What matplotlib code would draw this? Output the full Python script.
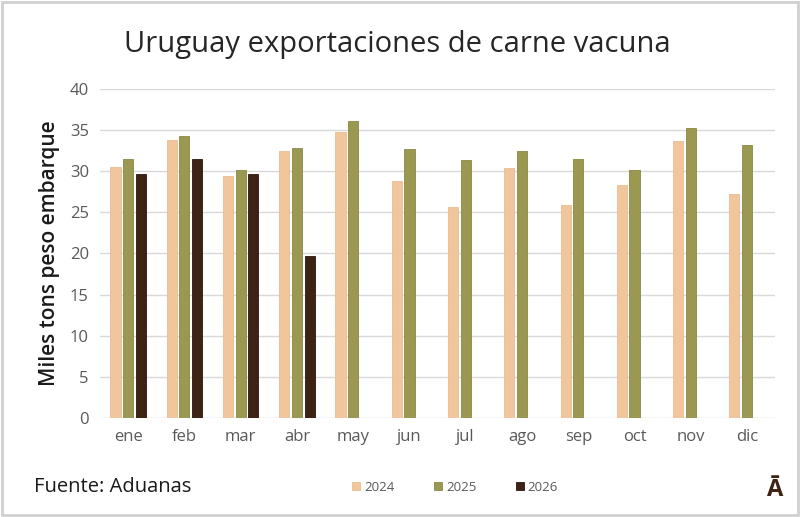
import numpy as np
import matplotlib.pyplot as plt
from matplotlib.patches import Rectangle

# data (miles de toneladas peso embarque)
meses = ["ene", "feb", "mar", "abr", "may", "jun", "jul", "ago", "sep", "oct", "nov", "dic"]
v2024 = [30.5, 33.8, 29.4, 32.5, 34.8, 28.8, 25.7, 30.4, 25.9, 28.3, 33.7, 27.2]
v2025 = [31.5, 34.3, 30.1, 32.8, 36.1, 32.7, 31.4, 32.4, 31.5, 30.1, 35.2, 33.2]
v2026 = [29.6, 31.5, 29.7, 19.7]

plt.rcParams['font.family'] = ['Open Sans', 'DejaVu Sans']

c24 = "#F1C69D"
c25 = "#9B9851"
c26 = "#3E2314"

fig = plt.figure(figsize=(8, 5.17), dpi=100)
ax = fig.add_axes([0.125, 0.1915, 0.844, 0.6365])

x = np.arange(len(meses))
w = 0.18
off = 0.225
ax.bar(x - off, v2024, w, color=c24, edgecolor="#E9BC90", linewidth=0.6, label="2024", zorder=3)
ax.bar(x, v2025, w, color=c25, edgecolor="#8A8744", linewidth=0.6, label="2025", zorder=3)
ax.bar(x[:len(v2026)] + off, v2026, w, color=c26, edgecolor="#2A160C", linewidth=0.6, label="2026", zorder=3)

ax.set_xlim(-0.5, len(meses) - 0.5)
ax.set_ylim(0, 40)
ax.set_yticks(range(0, 41, 5))
ax.set_xticks(x)
ax.set_xticklabels(meses)
ax.grid(axis="y", color="#D9D9D9", linewidth=1.0, zorder=0)
for s in ax.spines.values():
    s.set_visible(False)
ax.tick_params(length=0, labelsize=12, labelcolor="#595959", pad=8)
ax.set_ylabel("Miles tons peso embarque", fontsize=15, fontweight="semibold",
              color="#1a1a1a", labelpad=7)

fig.text(0.497, 0.913, "Uruguay exportaciones de carne vacuna", ha="center", va="center",
         fontsize=21, color="#262626")

leg = fig.legend(loc="center", bbox_to_anchor=(0.569, 0.058), ncol=3, frameon=False,
                 fontsize=9.5, handlelength=0.6, handleheight=0.6, columnspacing=3.0,
                 handletextpad=0.3, labelcolor="#595959")

fig.text(0.043, 0.058, "Fuente: Aduanas", ha="left", va="center", fontsize=14.5, color="#1a1a1a")
fig.text(0.968, 0.052, "Ā", ha="center", va="center", fontsize=17, fontweight="bold", color="#3E2314")

# light gray frame round the picture
fig.patches.append(Rectangle((0.002, 0.003), 0.996, 0.994, transform=fig.transFigure,
                             fill=False, edgecolor="#D0D0D0", linewidth=2))

fig.savefig("out.png", dpi=100)
